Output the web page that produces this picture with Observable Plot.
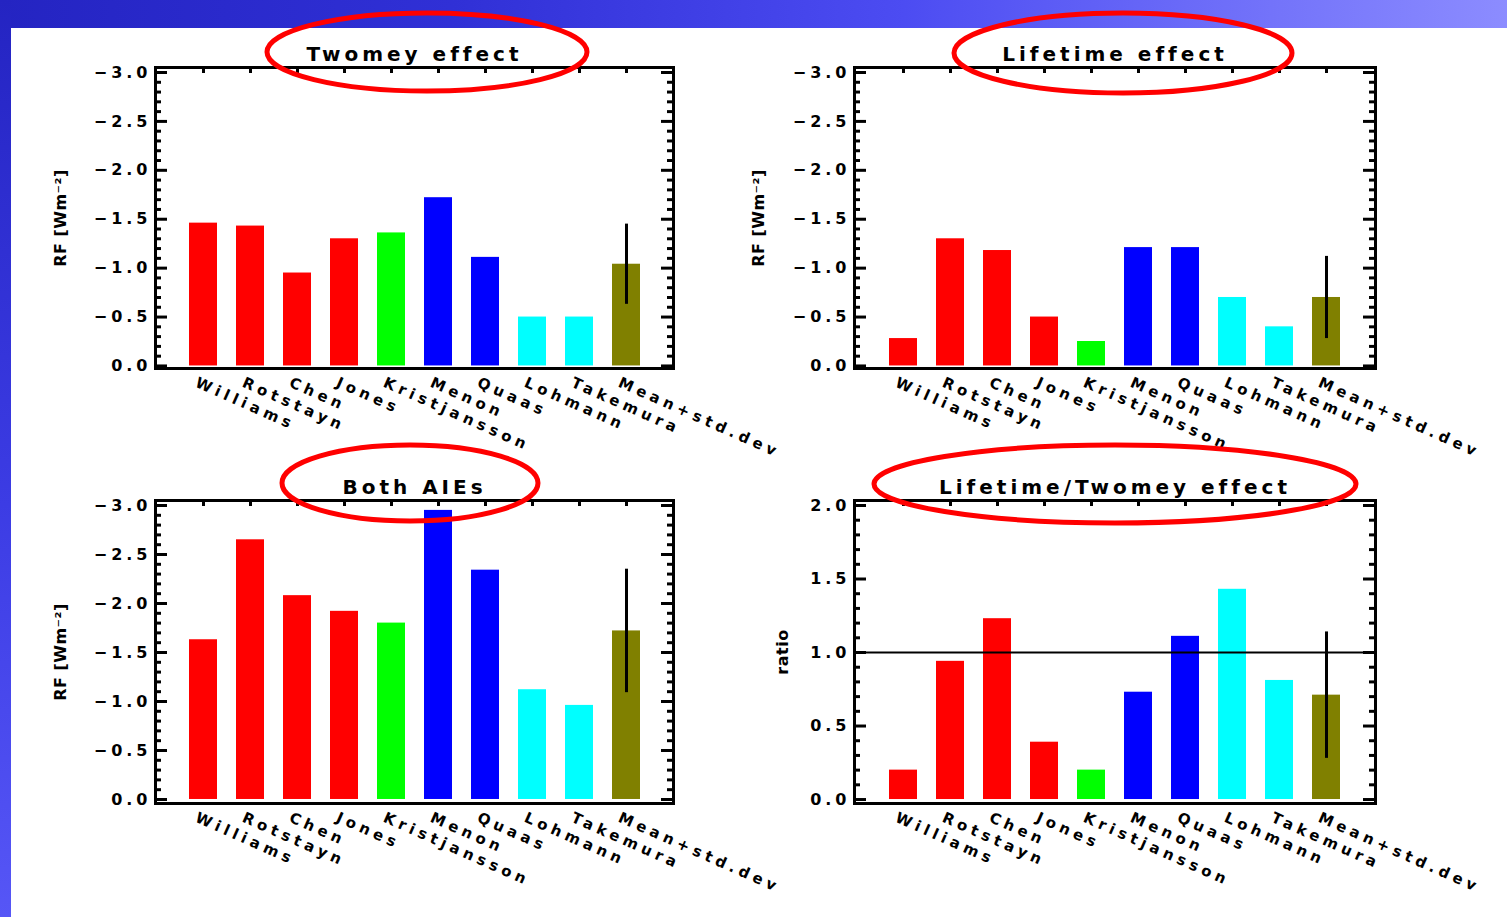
<!DOCTYPE html>
<html>
<head>
<meta charset="utf-8">
<script src="https://cdn.jsdelivr.net/npm/d3@7"></script>
<script src="https://cdn.jsdelivr.net/npm/@observablehq/plot@0.6"></script>
<style>
  html, body { margin: 0; padding: 0; }
  body {
    width: 1507px; height: 917px; position: relative; overflow: hidden;
    background: linear-gradient(to right, #2424c2 0%, #3030d6 30%, #4c4cf2 60%, #8c8cff 100%);
    font-family: "DejaVu Sans", sans-serif;
  }
  #side { position: absolute; left: 0; top: 0; width: 11px; height: 917px;
    background: linear-gradient(to bottom, #2424c2 0%, #3c3ce4 55%, #5656f6 100%); }
  #sheet { position: absolute; left: 11px; top: 28px; right: 0; bottom: 0; background: #ffffff; }
  .panel { position: absolute; }
  .panel svg { overflow: visible; background: transparent !important; font-family: "DejaVu Sans", sans-serif; }
  g[aria-label="y-axis tick label"] text { letter-spacing: 4px; }
  #rings { position: absolute; left: 0; top: 0; pointer-events: none; }
</style>
</head>
<body>
<div id="side"></div>
<div id="sheet"></div>
<div id="p1" class="panel" style="left:0px;top:0px"></div>
<div id="p2" class="panel" style="left:760px;top:0px"></div>
<div id="p3" class="panel" style="left:0px;top:440px"></div>
<div id="p4" class="panel" style="left:760px;top:440px"></div>
<svg id="rings" width="1507" height="917"></svg>
<script>
// Models compared, and the colour of each model group
const models = ["Williams", "Rotstayn", "Chen", "Jones", "Kristjansson", "Menon", "Quaas", "Lohmann", "Takemura", "Mean+std.dev"];
const modelColors = ["#ff0000", "#ff0000", "#ff0000", "#ff0000", "#00ff00", "#0000ff", "#0000ff", "#00ffff", "#00ffff", "#808000"];

// Global mean forcing per model [W m-2]; last entry is the multi-model mean
const twomey   = [-1.46, -1.43, -0.95, -1.30, -1.36, -1.72, -1.11, -0.50, -0.50, -1.04];
const twomeyStd = 0.41;
const lifetime = [-0.28, -1.30, -1.18, -0.50, -0.25, -1.21, -1.21, -0.70, -0.40, -0.70];
const lifetimeStd = 0.42;
const bothAIE  = [-1.63, -2.65, -2.08, -1.92, -1.80, -2.95, -2.34, -1.12, -0.96, -1.72];
const bothStd = 0.63;
// Ratio of lifetime to Twomey effect
const ratio    = [0.20, 0.94, 1.23, 0.39, 0.20, 0.73, 1.11, 1.43, 0.81, 0.71];
const ratioStd = 0.43;

// Tick values and labels
const forcingTicks = [-3.0, -2.5, -2.0, -1.5, -1.0, -0.5, 0.0];
const forcingTickLabels = ["\u22123.0", "\u22122.5", "\u22122.0", "\u22121.5", "\u22121.0", "\u22120.5", "0.0"];
const ratioTicks = [0.0, 0.5, 1.0, 1.5, 2.0];
const ratioTickLabels = ["0.0", "0.5", "1.0", "1.5", "2.0"];

const titles = ["Twomey effect", "Lifetime effect", "Both AIEs", "Lifetime/Twomey effect"];
const yLabels = ["RF [Wm\u207B\u00B2]", "RF [Wm\u207B\u00B2]", "RF [Wm\u207B\u00B2]", "ratio"];

function panel(o) {
  const rows = models.map((m, i) => ({model: m, value: o.values[i], color: modelColors[i]}));
  const mean = rows[rows.length - 1];
  const pw = o.width - o.ml - o.mr;
  const ph = o.height - o.mt - o.mb;
  const lo = Math.min(o.ticks[0], o.ticks[o.ticks.length - 1]);
  const hi = Math.max(o.ticks[0], o.ticks[o.ticks.length - 1]);
  const minor = d3.range(Math.round(lo * 10), Math.round(hi * 10) + 1)
    .filter(k => k % 5 !== 0).map(k => k / 10);
  const labelOf = new Map(o.ticks.map((t, i) => [t, o.tickLabels[i]]));
  const svg = Plot.plot({
    width: o.width, height: o.height,
    marginLeft: o.ml, marginRight: o.mr, marginTop: o.mt, marginBottom: o.mb,
    style: {background: "transparent", overflow: "visible"},
    x: {domain: models, paddingInner: 0.41, paddingOuter: 0.66, axis: null},
    y: {domain: o.domain, axis: null},
    marks: [
      Plot.barY(rows, {x: "model", y1: 0, y2: "value", fill: "color"}),
      o.ref != null ? Plot.ruleY([o.ref], {stroke: "black", strokeWidth: 2}) : null,
      Plot.ruleX([mean], {x: "model", y1: d => d.value - o.std, y2: d => d.value + o.std, stroke: "black", strokeWidth: 3}),
      // inward ticks on the left and right frame edges
      Plot.tickY(o.ticks, {y: d => d, stroke: "black", strokeWidth: 3, insetRight: pw - 12}),
      Plot.tickY(o.ticks, {y: d => d, stroke: "black", strokeWidth: 3, insetLeft: pw - 12}),
      Plot.tickY(minor, {y: d => d, stroke: "black", strokeWidth: 3, insetRight: pw - 6}),
      Plot.tickY(minor, {y: d => d, stroke: "black", strokeWidth: 3, insetLeft: pw - 6}),
      // ticks hanging from the top edge at each model
      Plot.tickX(models, {x: d => d, stroke: "black", strokeWidth: 3, insetBottom: ph - 6}),
      Plot.frame({stroke: "black", strokeWidth: 3}),
      Plot.axisY({ticks: o.ticks, tickSize: 0, tickPadding: 4, tickFormat: d => labelOf.get(d),
        fontSize: 16, fontWeight: "bold", fill: "black", label: null}),
      // model names under the bars
      Plot.text(models, {x: d => d, frameAnchor: "bottom", rotate: 24, textAnchor: "start", lineAnchor: "top",
        dy: 8, dx: -5, fontSize: 15, fontWeight: "bold", fill: "black"}),
      // panel title
      Plot.text([o.title], {frameAnchor: "top", dy: -21, fontSize: 20, fontWeight: "bold", fill: "black"}),
      // y-axis title
      Plot.text([o.ylabel], {frameAnchor: "left", rotate: -90, textAnchor: "middle", lineAnchor: "middle",
        dx: o.ylabelDx, fontSize: 16, fontWeight: "bold", fill: "black"})
    ]
  });
  // widen the lettering of the three text layers
  const layers = d3.select(svg).selectAll('g[aria-label="text"]').nodes();
  const spacing = ["4.5px", "4px", "0.5px"];
  layers.forEach((g, i) => d3.select(g).selectAll("text").style("letter-spacing", spacing[i]));
  return svg;
}

const topRow = {height: 470, mt: 67, mb: 102};
const bottomRow = {height: 477, mt: 60, mb: 114};
const leftCol = {width: 760, ml: 155, mr: 87};
const rightCol = {width: 747, ml: 94, mr: 132};

document.getElementById("p1").append(panel({...topRow, ...leftCol, values: twomey, std: twomeyStd,
  domain: [0.026, -3.051], ticks: forcingTicks, tickLabels: forcingTickLabels,
  title: titles[0], ylabel: yLabels[0], ylabelDx: -95}));
document.getElementById("p2").append(panel({...topRow, ...rightCol, values: lifetime, std: lifetimeStd,
  domain: [0.026, -3.051], ticks: forcingTicks, tickLabels: forcingTickLabels,
  title: titles[1], ylabel: yLabels[1], ylabelDx: -96}));
document.getElementById("p3").append(panel({...bottomRow, ...leftCol, values: bothAIE, std: bothStd,
  domain: [0.041, -3.051], ticks: forcingTicks, tickLabels: forcingTickLabels,
  title: titles[2], ylabel: yLabels[2], ylabelDx: -95}));
document.getElementById("p4").append(panel({...bottomRow, ...rightCol, values: ratio, std: ratioStd,
  domain: [-0.027, 2.034], ticks: ratioTicks, tickLabels: ratioTickLabels, ref: 1.0,
  title: titles[3], ylabel: yLabels[3], ylabelDx: -72}));

// Red rings highlighting each panel title
const rings = [
  {cx: 427, cy: 52, rx: 160, ry: 39},
  {cx: 1123, cy: 53, rx: 169, ry: 40},
  {cx: 410, cy: 483, rx: 128, ry: 38},
  {cx: 1115, cy: 484, rx: 241, ry: 39}
];
d3.select("#rings").selectAll("ellipse").data(rings).join("ellipse")
  .attr("cx", d => d.cx).attr("cy", d => d.cy).attr("rx", d => d.rx).attr("ry", d => d.ry)
  .attr("fill", "none").attr("stroke", "#ff0000").attr("stroke-width", 5);
</script>
</body>
</html>
